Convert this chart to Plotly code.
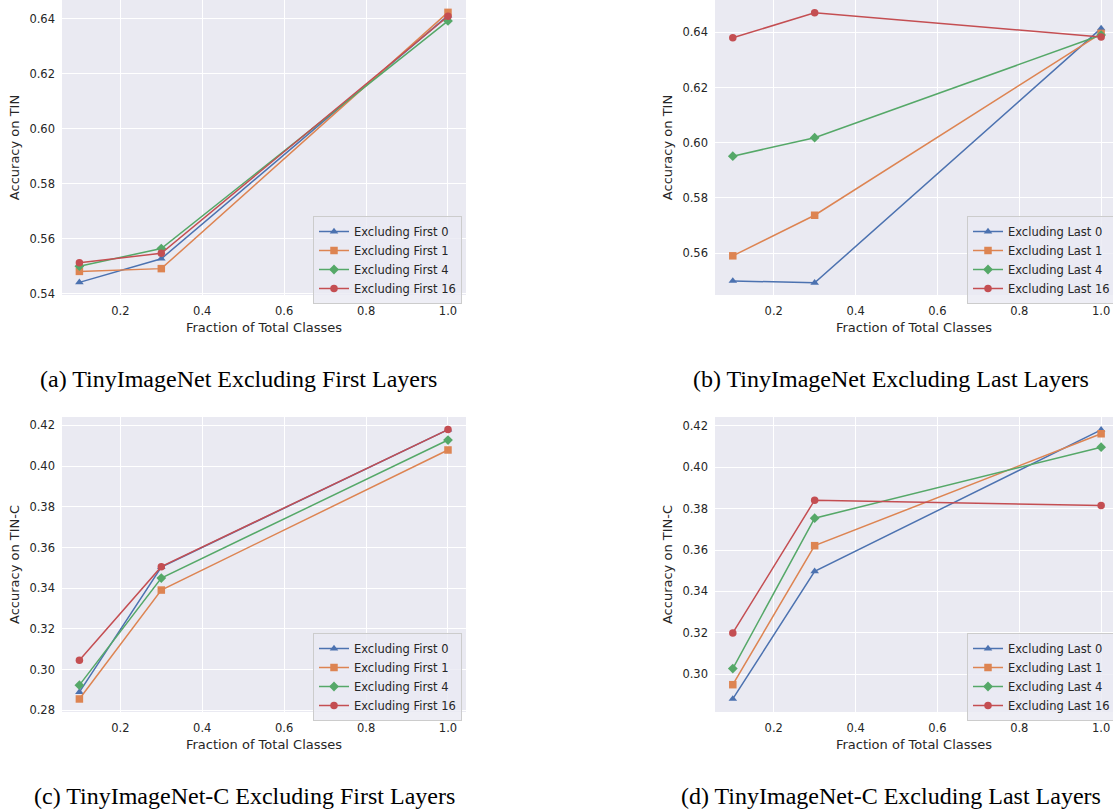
import plotly.graph_objects as go

fractions = [0.1, 0.3, 1.0]
series_names_first = ["Excluding First 0", "Excluding First 1", "Excluding First 4", "Excluding First 16"]
series_names_last = ["Excluding Last 0", "Excluding Last 1", "Excluding Last 4", "Excluding Last 16"]

# (a) TinyImageNet excluding first layers
tin_first_0 = [0.5441, 0.5527, 0.6412]
tin_first_1 = [0.5481, 0.5491, 0.6424]
tin_first_4 = [0.5500, 0.5564, 0.6393]
tin_first_16 = [0.5512, 0.5547, 0.6410]

# (b) TinyImageNet excluding last layers
tin_last_0 = [0.5499, 0.5492, 0.6414]
tin_last_1 = [0.5590, 0.5737, 0.6396]
tin_last_4 = [0.5951, 0.6018, 0.6390]
tin_last_16 = [0.6380, 0.6471, 0.6383]

# (c) TinyImageNet-C excluding first layers
tinc_first_0 = [0.2890, 0.3504, 0.4179]
tinc_first_1 = [0.2856, 0.3391, 0.4079]
tinc_first_4 = [0.2924, 0.3450, 0.4128]
tinc_first_16 = [0.3046, 0.3506, 0.4179]

# (d) TinyImageNet-C excluding last layers
tinc_last_0 = [0.2880, 0.3497, 0.4181]
tinc_last_1 = [0.2949, 0.3621, 0.4162]
tinc_last_4 = [0.3027, 0.3754, 0.4097]
tinc_last_16 = [0.3199, 0.3841, 0.3815]

captions = ["(a) TinyImageNet Excluding First Layers", "(b) TinyImageNet Excluding Last Layers",
            "(c) TinyImageNet-C Excluding First Layers", "(d) TinyImageNet-C Excluding Last Layers"]
x_title = "Fraction of Total Classes"
y_titles = ["Accuracy on TIN", "Accuracy on TIN", "Accuracy on TIN-C", "Accuracy on TIN-C"]
x_ticks = [0.2, 0.4, 0.6, 0.8, 1.0]

colors = ["#4C72B0", "#DD8452", "#55A868", "#C44E52"]
symbols = ["triangle-up", "square", "diamond", "circle"]

W, H = 1113, 809
panels = [
    dict(data=[tin_first_0, tin_first_1, tin_first_4, tin_first_16], names=series_names_first,
         px=(62, 466), py=(0, 295), xr=[0.0575, 1.044], yr=[0.5395, 0.6469]),
    dict(data=[tin_last_0, tin_last_1, tin_last_4, tin_last_16], names=series_names_last,
         px=(715, 1113), py=(0, 295), xr=[0.0565, 1.029], yr=[0.5448, 0.6517]),
    dict(data=[tinc_first_0, tinc_first_1, tinc_first_4, tinc_first_16], names=series_names_first,
         px=(62, 466), py=(417, 712), xr=[0.0575, 1.044], yr=[0.2792, 0.4241]),
    dict(data=[tinc_last_0, tinc_last_1, tinc_last_4, tinc_last_16], names=series_names_last,
         px=(715, 1113), py=(417, 712), xr=[0.0565, 1.029], yr=[0.2817, 0.4243]),
]
legend_pos = [(313, 216), (967, 216), (313, 633), (967, 633)]
caption_pos = [(238, 379), (891, 379), (244, 796), (891, 796)]

fig = go.Figure()
tick_font = dict(family="DejaVu Sans", size=11.5, color="#262626")
title_font = dict(family="DejaVu Sans", size=13, color="#262626")

for i, p in enumerate(panels):
    k = "" if i == 0 else str(i + 1)
    leg = "legend" if i == 0 else f"legend{i + 1}"
    for j, (vals, name) in enumerate(zip(p["data"], p["names"])):
        fig.add_trace(go.Scatter(
            x=fractions, y=vals, name=name, mode="lines+markers",
            line=dict(color=colors[j], width=1.5),
            marker=dict(symbol=symbols[j], size=7.5, color=colors[j]),
            xaxis="x" + k, yaxis="y" + k, legend=leg,
        ))
    x0, x1 = p["px"]
    y0, y1 = p["py"]
    fig.layout["xaxis" + k] = dict(
        domain=[x0 / W, x1 / W], range=p["xr"], anchor="y" + k, automargin=False,
        tickvals=x_ticks, tickformat=".1f",
        showgrid=True, gridcolor="white", gridwidth=1, zeroline=False, showline=False,
        ticks="", ticklabelstandoff=7, tickfont=tick_font,
        title=dict(text=x_title, font=title_font, standoff=6),
    )
    fig.layout["yaxis" + k] = dict(
        domain=[1 - y1 / H, 1 - y0 / H], range=p["yr"], anchor="x" + k, automargin=False,
        dtick=0.02, tick0=0, tickformat=".2f",
        showgrid=True, gridcolor="white", gridwidth=1, zeroline=False, showline=False,
        ticks="", ticklabelstandoff=6, tickfont=tick_font,
        title=dict(text=y_titles[i], font=title_font, standoff=6),
    )
    lx, ly = legend_pos[i]
    fig.layout[leg] = dict(
        x=lx / W, y=1 - ly / H, xanchor="left", yanchor="top",
        bgcolor="rgba(234,234,242,0.8)", bordercolor="#cccccc", borderwidth=1,
        font=dict(family="DejaVu Sans", size=11.5, color="#262626"),
        tracegroupgap=0, itemwidth=30,
    )
    cx, cy = caption_pos[i]
    fig.add_annotation(text=captions[i], x=cx / W, y=1 - cy / H, xref="paper", yref="paper",
                       showarrow=False, xanchor="center", yanchor="middle",
                       font=dict(family="Liberation Serif", size=24, color="black"))

fig.update_layout(
    width=W, height=H, margin=dict(l=0, r=0, t=0, b=0, autoexpand=False),
    paper_bgcolor="white", plot_bgcolor="#EAEAF2",
    showlegend=True,
)
fig.write_html("out.html", config={"displayModeBar": False},
               post_script="document.body.style.margin='0';document.body.style.overflow='hidden';")
